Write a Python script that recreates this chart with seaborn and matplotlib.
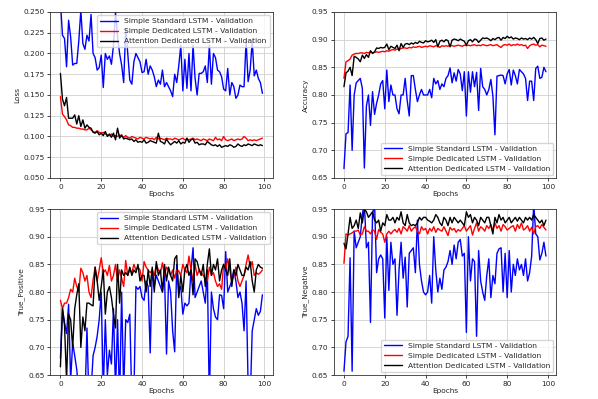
import numpy as np
import pandas as pd
import seaborn as sns
import matplotlib
matplotlib.use("Agg")
import matplotlib.pyplot as plt

epochs = list(range(100))
names = ["Simple Standard LSTM - Validation",
         "Simple Dedicated LSTM - Validation",
         "Attention Dedicated LSTM - Validation"]

loss_std = [0.262, 0.222, 0.218, 0.184, 0.240, 0.220, 0.186, 0.188, 0.188, 0.215,
            0.252, 0.212, 0.205, 0.222, 0.215, 0.247, 0.200, 0.195, 0.180, 0.183,
            0.198, 0.159, 0.200, 0.193, 0.197, 0.187, 0.210, 0.250, 0.220, 0.200,
            0.186, 0.165, 0.230, 0.200, 0.168, 0.163, 0.190, 0.200, 0.195, 0.190,
            0.177, 0.178, 0.193, 0.175, 0.185, 0.180, 0.172, 0.160, 0.168, 0.163,
            0.180, 0.160, 0.165, 0.160, 0.155, 0.148, 0.175, 0.165, 0.185, 0.210,
            0.155, 0.193, 0.158, 0.200, 0.155, 0.210, 0.170, 0.150, 0.176, 0.176,
            0.178, 0.185, 0.165, 0.210, 0.163, 0.200, 0.195, 0.180, 0.178, 0.172,
            0.157, 0.155, 0.182, 0.150, 0.165, 0.160, 0.146, 0.150, 0.162, 0.160,
            0.160, 0.215, 0.166, 0.180, 0.215, 0.173, 0.180, 0.170, 0.165, 0.152]
loss_ded = [0.148, 0.127, 0.124, 0.120, 0.114, 0.113, 0.111, 0.111, 0.110, 0.110,
            0.109, 0.109, 0.108, 0.108, 0.110, 0.108, 0.106, 0.105, 0.107, 0.105,
            0.104, 0.105, 0.103, 0.102, 0.101, 0.103, 0.100, 0.101, 0.100, 0.102,
            0.100, 0.099, 0.101, 0.099, 0.098, 0.100, 0.099, 0.098, 0.097, 0.099,
            0.098, 0.097, 0.099, 0.098, 0.097, 0.098, 0.096, 0.099, 0.097, 0.098,
            0.097, 0.096, 0.098, 0.097, 0.097, 0.096, 0.098, 0.097, 0.096, 0.097,
            0.098, 0.096, 0.097, 0.096, 0.097, 0.098, 0.096, 0.097, 0.096, 0.095,
            0.097, 0.096, 0.095, 0.097, 0.096, 0.095, 0.099, 0.096, 0.097, 0.095,
            0.100, 0.096, 0.095, 0.096, 0.097, 0.095, 0.096, 0.097, 0.096, 0.097,
            0.100, 0.098, 0.095, 0.096, 0.095, 0.096, 0.095, 0.096, 0.097, 0.098]
loss_att = [0.176, 0.145, 0.137, 0.147, 0.122, 0.122, 0.122, 0.126, 0.115, 0.125,
            0.112, 0.120, 0.110, 0.114, 0.111, 0.110, 0.105, 0.104, 0.106, 0.102,
            0.104, 0.101, 0.106, 0.100, 0.103, 0.099, 0.104, 0.096, 0.110, 0.098,
            0.102, 0.097, 0.098, 0.097, 0.096, 0.097, 0.094, 0.096, 0.093, 0.094,
            0.093, 0.096, 0.092, 0.093, 0.095, 0.094, 0.093, 0.092, 0.104, 0.094,
            0.093, 0.091, 0.097, 0.093, 0.090, 0.092, 0.094, 0.092, 0.095, 0.091,
            0.093, 0.092, 0.098, 0.093, 0.096, 0.097, 0.092, 0.093, 0.090, 0.091,
            0.091, 0.090, 0.094, 0.092, 0.090, 0.089, 0.090, 0.088, 0.090, 0.087,
            0.088, 0.089, 0.088, 0.090, 0.089, 0.087, 0.088, 0.091, 0.089, 0.088,
            0.090, 0.089, 0.091, 0.090, 0.089, 0.091, 0.090, 0.089, 0.090, 0.089]

acc_std = [0.667, 0.730, 0.732, 0.818, 0.700, 0.800, 0.822, 0.826, 0.830, 0.812,
           0.668, 0.780, 0.800, 0.745, 0.806, 0.765, 0.785, 0.800, 0.820, 0.826,
           0.775, 0.845, 0.788, 0.818, 0.800, 0.800, 0.775, 0.766, 0.800, 0.800,
           0.830, 0.790, 0.762, 0.835, 0.835, 0.810, 0.788, 0.800, 0.810, 0.800,
           0.800, 0.800, 0.810, 0.795, 0.830, 0.820, 0.826, 0.810, 0.820, 0.815,
           0.830, 0.835, 0.849, 0.822, 0.840, 0.825, 0.846, 0.838, 0.808, 0.842,
           0.762, 0.842, 0.805, 0.842, 0.815, 0.841, 0.772, 0.848, 0.815, 0.810,
           0.800, 0.810, 0.828, 0.798, 0.728, 0.834, 0.835, 0.836, 0.835, 0.820,
           0.838, 0.846, 0.818, 0.845, 0.835, 0.820, 0.846, 0.842, 0.838, 0.830,
           0.790, 0.825, 0.825, 0.790, 0.848, 0.852, 0.830, 0.832, 0.850, 0.842]
acc_ded = [0.830, 0.860, 0.862, 0.865, 0.872, 0.874, 0.875, 0.875, 0.876, 0.876,
           0.875, 0.877, 0.876, 0.878, 0.876, 0.877, 0.878, 0.877, 0.878, 0.879,
           0.878, 0.880, 0.879, 0.881, 0.882, 0.881, 0.883, 0.882, 0.884, 0.885,
           0.885, 0.884, 0.886, 0.885, 0.887, 0.886, 0.887, 0.888, 0.886, 0.887,
           0.888, 0.887, 0.889, 0.888, 0.887, 0.889, 0.888, 0.886, 0.889, 0.888,
           0.889, 0.888, 0.890, 0.889, 0.888, 0.889, 0.890, 0.889, 0.888, 0.890,
           0.889, 0.890, 0.889, 0.890, 0.891, 0.889, 0.890, 0.889, 0.891, 0.890,
           0.889, 0.890, 0.891, 0.889, 0.890, 0.891, 0.888, 0.886, 0.890, 0.891,
           0.890, 0.892, 0.889, 0.891, 0.890, 0.892, 0.890, 0.891, 0.889, 0.890,
           0.884, 0.889, 0.891, 0.892, 0.890, 0.891, 0.887, 0.890, 0.889, 0.888]
acc_att = [0.815, 0.840, 0.843, 0.850, 0.835, 0.870, 0.868, 0.865, 0.860, 0.872,
           0.866, 0.873, 0.868, 0.880, 0.875, 0.878, 0.885, 0.884, 0.886, 0.885,
           0.886, 0.892, 0.882, 0.888, 0.886, 0.884, 0.890, 0.880, 0.893, 0.886,
           0.892, 0.893, 0.891, 0.894, 0.892, 0.895, 0.893, 0.897, 0.895, 0.894,
           0.898, 0.896, 0.897, 0.899, 0.895, 0.900, 0.887, 0.897, 0.899, 0.896,
           0.900, 0.898, 0.887, 0.899, 0.901, 0.900, 0.898, 0.901, 0.899, 0.897,
           0.890, 0.898, 0.900, 0.896, 0.901, 0.900, 0.895, 0.899, 0.903, 0.902,
           0.903, 0.901, 0.898, 0.902, 0.900, 0.903, 0.904, 0.899, 0.904, 0.902,
           0.906, 0.903, 0.905, 0.901, 0.903, 0.902, 0.900, 0.903, 0.901, 0.902,
           0.900, 0.903, 0.901, 0.904, 0.900, 0.893, 0.902, 0.903, 0.899, 0.901]

tp_std = [0.680, 0.770, 0.745, 0.725, 0.778, 0.640, 0.708, 0.685, 0.660, 0.620,
          0.600, 0.620, 0.600, 0.735, 0.600, 0.620, 0.685, 0.700, 0.720, 0.750,
          0.800, 0.620, 0.750, 0.650, 0.695, 0.670, 0.770, 0.620, 0.750, 0.600,
          0.800, 0.620, 0.750, 0.745, 0.760, 0.600, 0.610, 0.810, 0.805, 0.810,
          0.790, 0.785, 0.820, 0.810, 0.690, 0.840, 0.810, 0.830, 0.820, 0.810,
          0.800, 0.830, 0.688, 0.820, 0.800, 0.730, 0.692, 0.850, 0.800, 0.810,
          0.760, 0.780, 0.775, 0.780, 0.840, 0.880, 0.790, 0.800, 0.810, 0.820,
          0.800, 0.780, 0.840, 0.600, 0.800, 0.770, 0.755, 0.750, 0.795, 0.794,
          0.770, 0.873, 0.800, 0.810, 0.820, 0.840, 0.820, 0.790, 0.800, 0.780,
          0.730, 0.820, 0.630, 0.600, 0.730, 0.750, 0.770, 0.758, 0.765, 0.795]
tp_ded = [0.785, 0.770, 0.780, 0.780, 0.790, 0.805, 0.800, 0.825, 0.810, 0.800,
          0.843, 0.835, 0.820, 0.830, 0.800, 0.790, 0.822, 0.845, 0.820, 0.840,
          0.862, 0.835, 0.840, 0.830, 0.848, 0.820, 0.830, 0.850, 0.820, 0.840,
          0.825, 0.810, 0.857, 0.830, 0.840, 0.835, 0.850, 0.840, 0.845, 0.840,
          0.820, 0.855, 0.845, 0.840, 0.835, 0.840, 0.830, 0.850, 0.840, 0.835,
          0.853, 0.830, 0.845, 0.840, 0.830, 0.840, 0.825, 0.840, 0.838, 0.830,
          0.850, 0.840, 0.835, 0.865, 0.840, 0.820, 0.850, 0.830, 0.840, 0.835,
          0.830, 0.825, 0.820, 0.845, 0.830, 0.835, 0.820, 0.810, 0.815, 0.805,
          0.850, 0.840, 0.860, 0.840, 0.820, 0.830, 0.845, 0.820, 0.810, 0.820,
          0.830, 0.850, 0.867, 0.845, 0.855, 0.830, 0.835, 0.832, 0.835, 0.840]
tp_att = [0.665, 0.770, 0.740, 0.640, 0.760, 0.750, 0.700, 0.770, 0.795, 0.815,
          0.700, 0.755, 0.730, 0.780, 0.780, 0.777, 0.775, 0.845, 0.820, 0.785,
          0.810, 0.840, 0.760, 0.800, 0.810, 0.790, 0.760, 0.735, 0.850, 0.780,
          0.840, 0.830, 0.835, 0.830, 0.845, 0.830, 0.840, 0.835, 0.850, 0.820,
          0.830, 0.830, 0.800, 0.840, 0.810, 0.845, 0.800, 0.855, 0.830, 0.840,
          0.800, 0.850, 0.820, 0.845, 0.830, 0.820, 0.860, 0.866, 0.790, 0.830,
          0.800, 0.840, 0.850, 0.830, 0.840, 0.795, 0.860, 0.855, 0.840, 0.830,
          0.850, 0.810, 0.850, 0.878, 0.830, 0.850, 0.840, 0.860, 0.820, 0.840,
          0.850, 0.840, 0.830, 0.860, 0.810, 0.840, 0.830, 0.850, 0.840, 0.830,
          0.830, 0.845, 0.840, 0.855, 0.820, 0.800, 0.840, 0.850, 0.845, 0.843]

tn_std = [0.657, 0.710, 0.720, 0.862, 0.657, 0.910, 0.880, 0.890, 0.900, 0.940,
          0.960, 0.880, 0.890, 0.745, 0.940, 0.960, 0.835, 0.860, 0.867, 0.860,
          0.753, 0.900, 0.803, 0.890, 0.850, 0.860, 0.758, 0.840, 0.890, 0.825,
          0.863, 0.773, 0.870, 0.875, 0.880, 0.835, 0.930, 0.850, 0.820, 0.800,
          0.795, 0.800, 0.830, 0.780, 0.900, 0.840, 0.800, 0.825, 0.805, 0.840,
          0.845, 0.855, 0.875, 0.850, 0.885, 0.860, 0.890, 0.895, 0.865, 0.870,
          0.727, 0.900, 0.820, 0.860, 0.855, 0.720, 0.875, 0.820, 0.800, 0.785,
          0.830, 0.860, 0.790, 0.830, 0.815, 0.870, 0.878, 0.880, 0.800, 0.870,
          0.790, 0.875, 0.800, 0.850, 0.830, 0.860, 0.840, 0.850, 0.830, 0.860,
          0.820, 0.835, 0.865, 0.960, 0.905, 0.900, 0.858, 0.870, 0.890, 0.865]
tn_ded = [0.852, 0.905, 0.903, 0.905, 0.907, 0.910, 0.910, 0.912, 0.903, 0.905,
          0.918, 0.910, 0.910, 0.905, 0.913, 0.910, 0.895, 0.913, 0.908, 0.905,
          0.890, 0.905, 0.910, 0.905, 0.910, 0.913, 0.908, 0.915, 0.905, 0.918,
          0.915, 0.910, 0.920, 0.910, 0.915, 0.918, 0.910, 0.905, 0.918, 0.912,
          0.915, 0.905, 0.915, 0.910, 0.918, 0.908, 0.915, 0.912, 0.910, 0.918,
          0.910, 0.902, 0.917, 0.912, 0.915, 0.908, 0.913, 0.910, 0.915, 0.920,
          0.910, 0.915, 0.920, 0.903, 0.915, 0.925, 0.910, 0.918, 0.915, 0.910,
          0.920, 0.915, 0.922, 0.912, 0.925, 0.915, 0.920, 0.910, 0.922, 0.918,
          0.912, 0.915, 0.918, 0.920, 0.910, 0.922, 0.915, 0.925, 0.912, 0.915,
          0.920, 0.910, 0.917, 0.905, 0.918, 0.920, 0.915, 0.922, 0.917, 0.912]
tn_att = [0.888, 0.878, 0.905, 0.935, 0.915, 0.920, 0.930, 0.915, 0.943, 0.925,
          0.950, 0.945, 0.935, 0.940, 0.945, 0.930, 0.925, 0.930, 0.910, 0.925,
          0.920, 0.940, 0.930, 0.930, 0.935, 0.925, 0.935, 0.930, 0.945, 0.925,
          0.920, 0.940, 0.925, 0.920, 0.922, 0.920, 0.925, 0.935, 0.930, 0.935,
          0.935, 0.930, 0.928, 0.925, 0.930, 0.940, 0.935, 0.925, 0.920, 0.935,
          0.930, 0.920, 0.935, 0.925, 0.935, 0.930, 0.925, 0.930, 0.925, 0.920,
          0.945, 0.935, 0.940, 0.925, 0.935, 0.930, 0.920, 0.935, 0.930, 0.925,
          0.935, 0.935, 0.920, 0.905, 0.935, 0.925, 0.940, 0.930, 0.935, 0.925,
          0.930, 0.935, 0.925, 0.930, 0.935, 0.928, 0.935, 0.930, 0.925, 0.935,
          0.930, 0.935, 0.930, 0.940, 0.935, 0.930, 0.925, 0.930, 0.920, 0.930]

panels = [
    ("Loss", [loss_std, loss_ded, loss_att], (0.05, 0.25), 0.025, "upper right"),
    ("Accuracy", [acc_std, acc_ded, acc_att], (0.65, 0.95), 0.05, "lower right"),
    ("True_Positive", [tp_std, tp_ded, tp_att], (0.65, 0.95), 0.05, "upper right"),
    ("True_Negative", [tn_std, tn_ded, tn_att], (0.65, 0.95), 0.05, "lower right"),
]
colors = ["blue", "red", "black"]

sns.set_style("ticks", {"axes.grid": True, "grid.color": "#d0d0d0",
                        "axes.edgecolor": "#333333"})
plt.rcParams["font.family"] = ["DejaVu Sans"]

fig, axes = plt.subplots(2, 2, figsize=(5.98, 3.99), dpi=100)
fig.subplots_adjust(left=0.084, right=0.930, top=0.970, bottom=0.060,
                    wspace=0.275, hspace=0.187)

for ax, (label, series, ylim, step, loc) in zip(axes.flat, panels):
    df = pd.DataFrame({
        "epoch": epochs * 3,
        "value": series[0] + series[1] + series[2],
        "model": [n for n in names for _ in epochs],
    })
    sns.lineplot(data=df, x="epoch", y="value", hue="model", hue_order=names,
                 palette=colors, linewidth=1.0, ax=ax)
    ax.set_ylim(*ylim)
    ax.set_xlim(-5, 104)
    ax.set_yticks(np.arange(ylim[0], ylim[1] + step / 2, step))
    ax.yaxis.set_major_formatter(matplotlib.ticker.FormatStrFormatter(
        "%.3f" if step < 0.05 else "%.2f"))
    ax.set_xticks([0, 20, 40, 60, 80, 100])
    ax.set_xlabel("Epochs", fontsize=5.3, labelpad=1)
    ax.set_ylabel(label, fontsize=5.3, labelpad=2)
    ax.tick_params(labelsize=5.3, length=2.5, width=0.6, pad=1.5)
    ax.grid(True, linewidth=0.6)
    for sp in ax.spines.values():
        sp.set_linewidth(0.6)
    ax.legend(loc=loc, fontsize=5.4, frameon=True, framealpha=0.8,
              handlelength=2.4, borderpad=0.4, labelspacing=0.5,
              borderaxespad=0.4, edgecolor="#cccccc")
    for line in ax.get_legend().get_lines():
        line.set_linewidth(1.0)

fig.savefig("out.png", dpi=100)
